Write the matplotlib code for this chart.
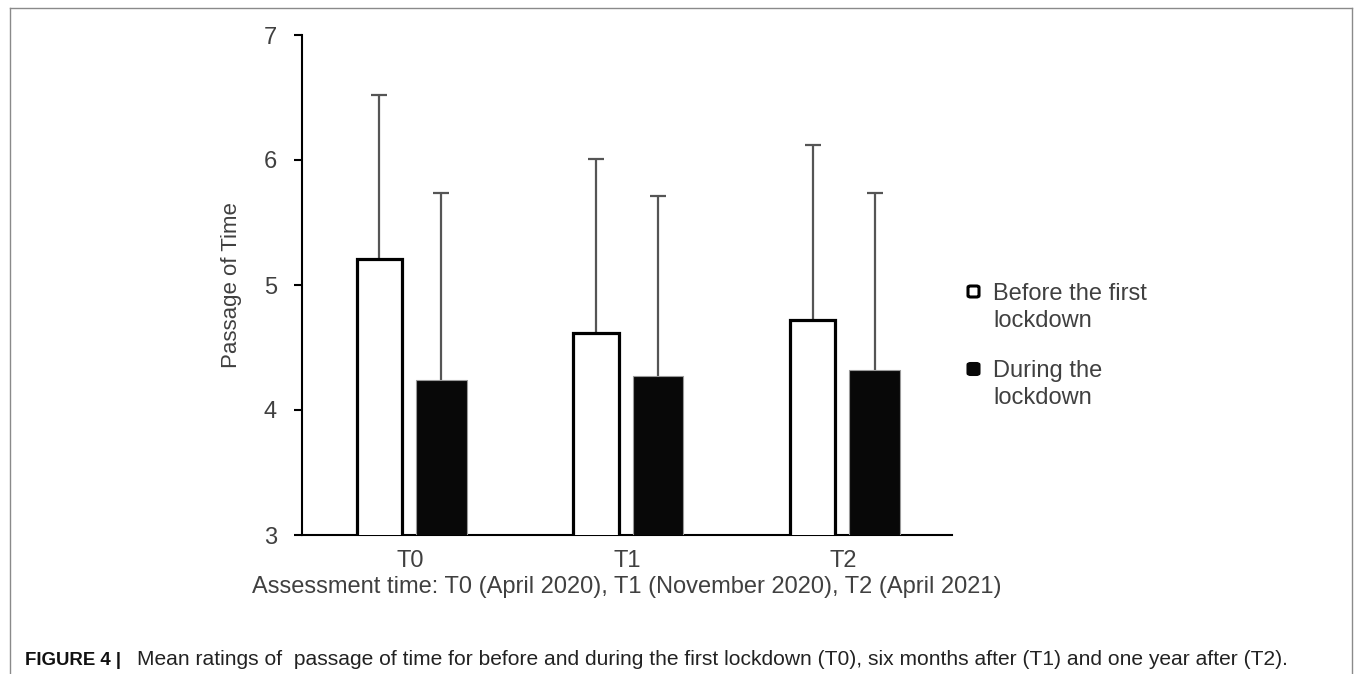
import matplotlib
matplotlib.use("Agg")
import matplotlib.pyplot as plt
from matplotlib.patches import FancyBboxPatch
from matplotlib.lines import Line2D
import numpy as np

# ---- data ----
categories = ["T0", "T1", "T2"]
series_labels = ["Before the first\nlockdown", "During the\nlockdown"]
before_mean = [5.21, 4.62, 4.72]
before_upper = [6.52, 6.01, 6.12]
during_mean = [4.24, 4.27, 4.32]
during_upper = [5.74, 5.71, 5.74]
y_ticks = [3, 4, 5, 6, 7]
y_label = "Passage of Time"
x_label = "Assessment time: T0 (April 2020), T1 (November 2020), T2 (April 2021)"
caption_bold = "FIGURE 4 |"
caption_text = ("Mean ratings of  passage of time for before and during the first lockdown (T0), "
                "six months after (T1) and one year after (T2).")

W, H = 1355, 674
fig = plt.figure(figsize=(W / 100, H / 100), dpi=100)
plt.rcParams['font.family'] = ['Liberation Sans', 'DejaVu Sans']
txt_col = "#404040"

ax = fig.add_axes([302 / W, 1 - 535 / H, (952 - 302) / W, (535 - 35) / H])
x = np.arange(len(categories))
off = 0.143

err_b = np.array(before_upper) - np.array(before_mean)
err_d = np.array(during_upper) - np.array(during_mean)

ax.bar(x + off, during_mean, width=0.235, color="#080808",
       edgecolor="#9a9a9a", linewidth=0.8, zorder=3)
ax.bar(x - off, before_mean, width=0.208, color="white",
       edgecolor="black", linewidth=2.3, zorder=3)

for xs, m, e in [(x - off, before_mean, err_b), (x + off, during_mean, err_d)]:
    cont = ax.errorbar(xs, m, yerr=[np.zeros(3), e], fmt="none",
                       ecolor="#555555", elinewidth=1.6, capsize=6, capthick=1.6, zorder=2)
    caps = cont.lines[1]
    if len(caps) > 0:
        caps[0].set_visible(False)

ax.set_xlim(-0.5, 2.5)
ax.set_ylim(3, 7)
ax.set_yticks(y_ticks)
ax.set_yticklabels([str(t) for t in y_ticks])
ax.set_xticks(x)
ax.set_xticklabels(categories)
for s in ["top", "right"]:
    ax.spines[s].set_visible(False)
for s in ["left", "bottom"]:
    ax.spines[s].set_linewidth(1.5)
    ax.spines[s].set_color("black")
ax.tick_params(axis="y", length=6, width=1.5, colors="black", labelcolor=txt_col,
               labelsize=17, pad=12)
ax.tick_params(axis="x", length=0, labelcolor=txt_col, labelsize=17, pad=11)
ax.set_ylabel(y_label, fontsize=16, color=txt_col, labelpad=16)
ax.set_xlabel(x_label, fontsize=17, color=txt_col, labelpad=3)

# legend (drawn manually so the key aligns with the first text line)
leg_faces = ["white", "#080808"]
leg_edges = ["black", "#080808"]
first_line_center = [291.5, 369]
for lab, fcol, ecol, yc in zip(series_labels, leg_faces, leg_edges, first_line_center):
    fig.add_artist(FancyBboxPatch((968 / W, 1 - (yc + 5.5) / H), 11 / W, 11 / H,
                                  boxstyle="round,pad=0,rounding_size=0.002",
                                  facecolor=fcol, edgecolor=ecol, linewidth=2.2,
                                  transform=fig.transFigure))
    for i, line in enumerate(lab.split("\n")):
        fig.text(993 / W, 1 - (yc + 8.5 + 27 * i) / H, line, fontsize=17,
                 color=txt_col, va="baseline", ha="left")

# frame
fc = "#8a8a8a"
fig.add_artist(Line2D([9.5 / W, 9.5 / W], [0, 1 - 7.5 / H], color=fc, lw=1))
fig.add_artist(Line2D([9.5 / W, 1352 / W], [1 - 7.5 / H, 1 - 7.5 / H], color=fc, lw=1))
fig.add_artist(Line2D([1352 / W, 1352 / W], [0, 1 - 7.5 / H], color=fc, lw=1))

# caption
renderer = fig.canvas.get_renderer()
cy = 1 - 665 / H
tb = fig.text(25 / W, cy, caption_bold, fontsize=13.5, fontweight="bold",
              family=["Liberation Sans Narrow", "Liberation Sans"], color="#111111",
              va="baseline")
w0 = tb.get_window_extent(renderer).width
tb.set_fontsize(13.5 * (121 - 25) / w0)
tc = fig.text(137 / W, cy, caption_text, fontsize=12.5,
              family=["Liberation Sans Narrow", "Liberation Sans"], color="#222222",
              va="baseline")
w = tc.get_window_extent(renderer).width
tc.set_fontsize(12.5 * (1288 - 137) / w)

fig.savefig("out.png", dpi=100)
